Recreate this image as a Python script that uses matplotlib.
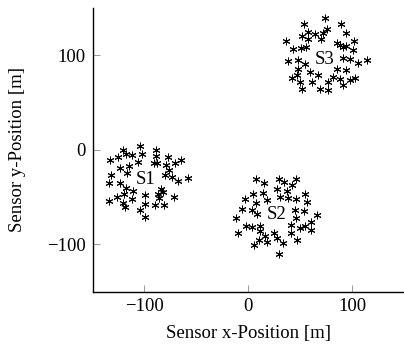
import numpy as np
import matplotlib
matplotlib.use("Agg")
import matplotlib.pyplot as plt

plt.rcParams['font.family'] = ['Liberation Serif', 'DejaVu Serif']

# sensor positions [m]
s1_x = [-121, -104, -89, -133, -125, -118, -112, -102, -89, -91, -88, -106, -115, -124,
        -77, -65, -71, -79, -76, -132, -117, -80, -73, -68, -58, -134, -124, -118, -111,
        -120, -126, -134, -112, -99, -84, -82, -87, -86, -72, -121, -119, -99, -90, -81,
        -104, -99]
s1_y = [0, 4, 0, -11, -8, -5, -6, -5, -7, -14, -14, -13, -17, -19,
        -8, -11, -14, -16, -21, -27, -25, -27, -29, -33, -30, -35, -35, -40, -44,
        -47, -50, -54, -52, -48, -42, -45, -47, -51, -50, -56, -61, -57, -58, -58,
        -64, -71]

s2_x = [7, 15, 30, 34, 46, 42, 5, 14, 28, 37, 55, -3, 7, 18, 31, 38, 46, 57,
        -6, 4, 8, 45, 46, 54, 66, -12, 60, -2, 4, 11, -10, 11, 16, 25, 28, 41,
        50, 55, 60, 41, 10, 18, 33, 47, 6, 30]
s2_y = [-31, -35, -31, -34, -31, -37, -47, -46, -42, -44, -47, -52, -56, -53, -50, -51, -52, -55,
        -63, -64, -68, -64, -72, -65, -69, -72, -76, -81, -82, -81, -88, -86, -91, -88, -93, -80,
        -83, -81, -85, -88, -95, -98, -99, -96, -101, -110]

s3_x = [74, 54, 89, 58, 76, 72, 64, 52, 58, 70, 94, 36, 102, 85, 88, 43, 51, 56,
        91, 94, 101, 38, 48, 55, 91, 98, 106, 114, 48, 59, 85, 94, 42, 47, 67, 82,
        88, 103, 98, 50, 61, 77, 69, 77, 52, 91]
s3_y = [139, 133, 133, 125, 128, 124, 122, 120, 117, 117, 124, 115, 115, 113, 111, 107, 108, 109,
        109, 110, 105, 94, 95, 91, 97, 96, 92, 95, 85, 82, 85, 84, 76, 79, 79, 77,
        75, 76, 74, 72, 72, 72, 64, 63, 64, 68]

labels = ['S1', 'S2', 'S3']
label_x = [-99, 27, 74]
label_y = [-31, -68, 95]

ticks = [-100, 0, 100]
tick_labels = ['\u2212100', '0', '100']

fig = plt.figure(figsize=(4.04, 3.45), dpi=100)
ax = fig.add_axes([0.229, 0.155, 0.771, 0.822])

star = (6, 2, 0)
for xs, ys in [(s1_x, s1_y), (s2_x, s2_y), (s3_x, s3_y)]:
    ax.plot(xs, ys, linestyle='none', marker=star, markersize=5.5,
            markeredgewidth=0.7, color='black')

for name, lx, ly in zip(labels, label_x, label_y):
    ax.text(lx, ly, name, fontsize=13.5, ha='center', va='center')

ax.set_xlim(-150, 150)
ax.set_ylim(-150, 150)
ax.set_xticks(ticks)
ax.set_yticks(ticks)
ax.set_xticklabels(tick_labels)
ax.set_yticklabels(tick_labels)

ax.spines['top'].set_visible(False)
ax.spines['right'].set_visible(False)
for s in ['left', 'bottom']:
    ax.spines[s].set_linewidth(1.0)
ax.tick_params(direction='in', length=5, width=0.6, color='#888888',
               labelsize=13.5, pad=5)

ax.set_xlabel('Sensor x-Position [m]', fontsize=13.5, labelpad=7)
ax.set_ylabel('Sensor y-Position [m]', fontsize=13.5, labelpad=15)

fig.savefig('out.png', dpi=100)
